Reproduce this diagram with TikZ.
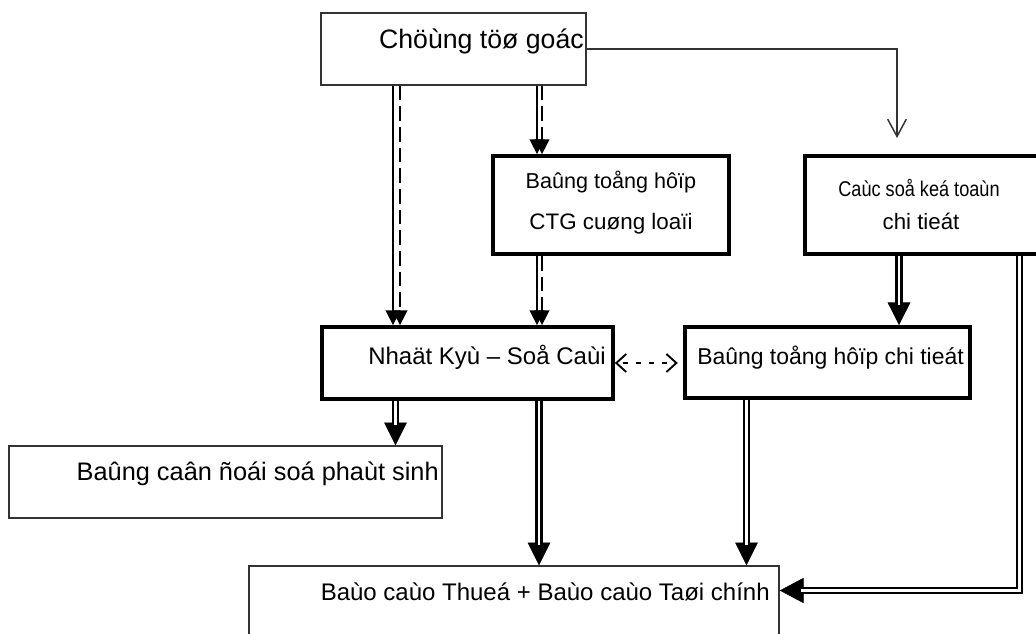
\documentclass[tikz,border=0pt]{standalone}
\usepackage{fontspec}
\setmainfont{Liberation Sans}
\usetikzlibrary{arrows.meta}

\begin{document}
\begin{tikzpicture}[x=0.75pt,y=-0.75pt,
  thinbox/.style={draw=black!80, line width=1.1pt, inner sep=0pt},
  thickbox/.style={draw=black, line width=2.8pt, inner sep=0pt},
  txt/.style={inner sep=0pt, text=black},
  thinline/.style={draw=black!80, line width=1.1pt},
  pairsolid/.style={draw=black, line width=1.1pt, -{Triangle[length=11pt,width=11pt]}},
  pairdash/.style={pairsolid, dash pattern=on 11pt off 4.5pt},
  dbl/.style={draw=black, double=white, double distance=2.2pt, line width=1.7pt, line join=miter},
  bigtip/.style={draw=black, line width=0.5pt, -{Triangle[length=17pt,width=17pt]}},
  bigtipR/.style={draw=black, line width=0.5pt, -{Triangle[length=18pt,width=19pt]}},
  dashboth/.style={draw=black, line width=1.4pt, dash pattern=on 3.75pt off 6pt, dash phase=-4pt,
    shorten >=4pt, {Straight Barb[length=7.5pt,width=13.5pt]}-{Straight Barb[length=7.5pt,width=13.5pt]}}
]
\useasboundingbox (0,0) rectangle (1036,634);
\clip (0,0) rectangle (1036,634);

% boxes
\node[thinbox, minimum width=198.75pt, minimum height=54pt] (top) at (453.5,49) {};
\node[thickbox, minimum width=177pt, minimum height=73.5pt] (ctg) at (611,205) {};
\node[thickbox, minimum width=180pt, minimum height=73.5pt] (cac) at (925,205) {};
\node[thickbox, minimum width=218.25pt, minimum height=54pt] (nk) at (467.5,363) {};
\node[thickbox, minimum width=213.75pt, minimum height=53.25pt] (bth) at (827.5,362.5) {};
\node[thinbox, minimum width=324.75pt, minimum height=54pt] (bcd) at (225.5,482) {};
\node[thinbox, minimum width=397.5pt, minimum height=63pt] (bc) at (514,608) {};

% texts
\node[txt, anchor=base east, font=\fontsize{20}{24}\selectfont] (ttop) at (584,49) {Chöùng töø goác};
\node[txt, anchor=base, font=\fontsize{16.2}{19}\selectfont] (tctg1) at (611,189) {Baûng toång hôïp};
\node[txt, anchor=base, font=\fontsize{16.8}{19}\selectfont] (tctg2) at (611,230) {CTG cuøng loaïi};
\node[txt, anchor=base, font=\fontsize{16}{19}\selectfont] (tcac1) at (919,197) {\scalebox{0.85}[1]{Caùc soå keá toaùn}};
\node[txt, anchor=base, font=\fontsize{16.7}{20}\selectfont] (tcac2) at (921,230) {chi tieát};
\node[txt, anchor=base east, font=\fontsize{18}{21}\selectfont] (tnk) at (606,365) {Nhaät Kyù – Soå Caùi};
\node[txt, anchor=base west, font=\fontsize{17.2}{20}\selectfont] (tbth) at (697,365) {Baûng toång hôïp chi tieát};
\node[txt, anchor=base east, font=\fontsize{19}{22}\selectfont] (tbcd) at (439,481) {Baûng caân ñoái soá phaùt sinh};
\node[txt, anchor=base east, font=\fontsize{18}{21}\selectfont] (tbc) at (770,600) {Baùo caùo Thueá + Baùo caùo Taøi chính};

% helper coordinates
\coordinate (xa) at (393,0);
\coordinate (xa2) at (400,0);
\coordinate (xb) at (537,0);
\coordinate (xb2) at (542,0);
\coordinate (xc) at (899,0);
\coordinate (xd) at (1019.5,0);
\coordinate (xe) at (395.5,0);
\coordinate (xf) at (539,0);
\coordinate (xg) at (746.5,0);
\coordinate (yb) at (0,590.5);
\coordinate (cacIn) at (897,138);

% thin connector from top to cac
\draw[thinline, -{Straight Barb[length=13pt,width=14pt]}] (top.east) -| (cacIn);

% solid + dashed pairs
\draw[pairsolid] (top.south -| xa) -- (nk.north -| xa);
\draw[pairdash] (top.south -| xa2) -- (nk.north -| xa2);
\draw[pairsolid] (top.south -| xb) -- (ctg.north -| xb);
\draw[pairdash] (top.south -| xb2) -- (ctg.north -| xb2);
\draw[pairsolid] (ctg.south -| xb) -- (nk.north -| xb);
\draw[pairdash] (ctg.south -| xb2) -- (nk.north -| xb2);

% double arrows
\draw[bigtip] (cac.south -| xc) -- (bth.north -| xc);
\draw[dbl, shorten >=15pt] (cac.south -| xc) -- (bth.north -| xc);
\draw[bigtip] (nk.south -| xe) -- (bcd.north -| xe);
\draw[dbl, shorten >=15pt] (nk.south -| xe) -- (bcd.north -| xe);
\draw[bigtip] (nk.south -| xf) -- (bc.north -| xf);
\draw[dbl, shorten >=15pt] (nk.south -| xf) -- (bc.north -| xf);
\draw[bigtip] (bth.south -| xg) -- (bc.north -| xg);
\draw[dbl, shorten >=15pt] (bth.south -| xg) -- (bc.north -| xg);
\draw[bigtipR] (cac.south -| xd) |- (bc.east |- yb);
\draw[dbl, shorten >=16pt] (cac.south -| xd) |- (bc.east |- yb);

% dashed two-headed
\draw[dashboth] (nk.east) -- (bth.west |- nk.east);
\end{tikzpicture}
\end{document}
